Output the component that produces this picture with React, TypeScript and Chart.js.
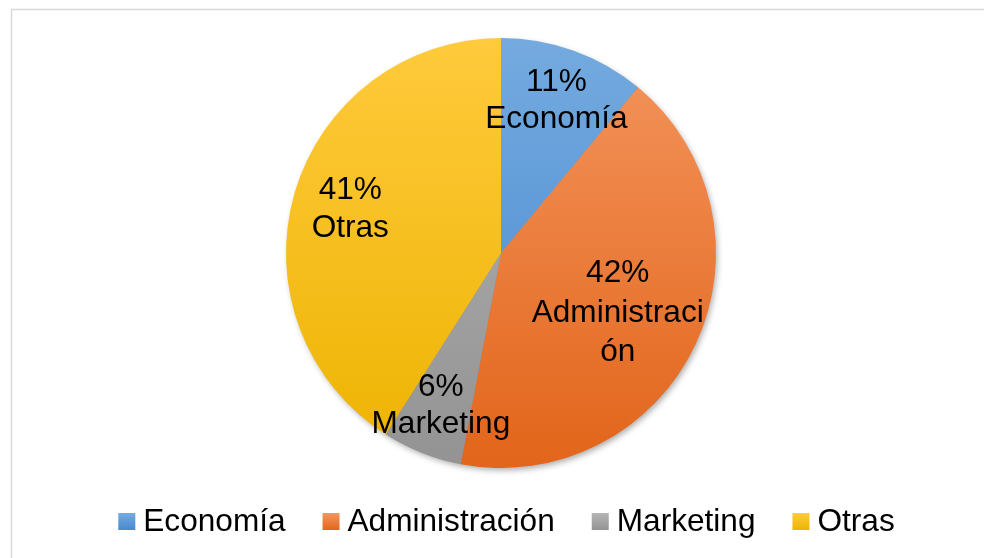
import React, { useEffect, useRef } from 'react';
import { Chart, registerables } from 'chart.js';

Chart.register(...registerables);

const categories = ['Economía', 'Administración', 'Marketing', 'Otras'];
const values = [11, 42, 6, 41];
const colorsTop = ['#74aadf', '#f4955e', '#b3b3b3', '#ffca3c'];
const colorsBottom = ['#4688cf', '#e2651a', '#939393', '#edb300'];
const labelRadius = [0.76, 0.6, 0.76, 0.73];
const labelDy = [2, 5, 1, 0];
const labelLineHeight = [37, 39.5, 37, 38];

const FONT = '31.6px "Liberation Sans", Arial, sans-serif';

function wrapText(ctx: CanvasRenderingContext2D, text: string, maxW: number): string[] {
  const lines: string[] = [];
  let cur = '';
  for (const ch of text) {
    if (ctx.measureText(cur + ch).width > maxW && cur.length) {
      lines.push(cur);
      cur = ch;
    } else cur += ch;
  }
  if (cur) lines.push(cur);
  return lines;
}

const framePlugin = {
  id: 'frame',
  beforeDraw(chart: any) {
    const ctx = chart.ctx;
    ctx.save();
    ctx.fillStyle = '#ffffff';
    ctx.fillRect(0, 0, chart.width, chart.height);
    ctx.strokeStyle = '#d9d9d9';
    ctx.lineWidth = 1.5;
    ctx.strokeRect(11.5, 9.5, chart.width + 20, chart.height + 20);
    ctx.restore();
  },
  beforeDatasetsDraw(chart: any) {
    const meta = chart.getDatasetMeta(0);
    const el = meta.data[0];
    if (!el) return;
    const { x, y, outerRadius } = el.getProps(['x', 'y', 'outerRadius'], true);
    const ctx = chart.ctx;
    ctx.save();
    ctx.shadowColor = 'rgba(0,0,0,0.35)';
    ctx.shadowBlur = 6;
    ctx.shadowOffsetX = 2;
    ctx.shadowOffsetY = 3;
    ctx.fillStyle = '#888';
    ctx.beginPath();
    ctx.arc(x, y, outerRadius - 1, 0, Math.PI * 2);
    ctx.fill();
    ctx.restore();
  },
  afterDatasetsDraw(chart: any) {
    const ctx = chart.ctx;
    const meta = chart.getDatasetMeta(0);
    const total = values.reduce((a, b) => a + b, 0);
    ctx.save();
    ctx.font = FONT;
    ctx.fillStyle = '#000000';
    ctx.textAlign = 'center';
    ctx.textBaseline = 'middle';
    meta.data.forEach((arc: any, i: number) => {
      const { x, y, startAngle, endAngle, outerRadius } = arc.getProps(
        ['x', 'y', 'startAngle', 'endAngle', 'outerRadius'],
        true
      );
      const mid = (startAngle + endAngle) / 2;
      const r = outerRadius * labelRadius[i];
      const px = x + Math.cos(mid) * r;
      const py = y + Math.sin(mid) * r + labelDy[i];
      const pct = Math.round((values[i] / total) * 100) + '%';
      const lines = [pct, ...wrapText(ctx, categories[i], 178)];
      const lh = labelLineHeight[i];
      lines.forEach((ln, j) => {
        ctx.fillText(ln, px, py + (j - (lines.length - 1) / 2) * lh);
      });
    });
    ctx.restore();
  },
  afterDraw(chart: any) {
    const ctx = chart.ctx;
    ctx.save();
    ctx.font = FONT;
    const box = 17;
    const gapText = 8;
    const gapItem = 37;
    const widths = categories.map((c) => ctx.measureText(c).width);
    const total = widths.reduce((s, w) => s + box + gapText + w, 0) + gapItem * (categories.length - 1);
    let cx = 506.5 - total / 2;
    const cy = 522;
    ctx.textBaseline = 'middle';
    ctx.textAlign = 'left';
    categories.forEach((c, i) => {
      const g = ctx.createLinearGradient(0, cy - box / 2, 0, cy + box / 2);
      g.addColorStop(0, colorsTop[i]);
      g.addColorStop(1, colorsBottom[i]);
      ctx.fillStyle = g;
      ctx.fillRect(cx, cy - box / 2 - 0.5, box, box);
      cx += box + gapText;
      ctx.fillStyle = '#000000';
      ctx.fillText(c, cx, cy);
      cx += widths[i] + gapItem;
    });
    ctx.restore();
  },
};

export default function App() {
  const ref = useRef<HTMLCanvasElement>(null);
  useEffect(() => {
    if (!ref.current) return;
    const chart = new Chart(ref.current, {
      type: 'pie',
      data: {
        labels: categories,
        datasets: [
          {
            data: values,
            borderWidth: 0,
            backgroundColor: (ctx: any) => {
              const ch = ctx.chart;
              const area = ch.chartArea;
              if (!area) return colorsTop[ctx.dataIndex];
              const g = ch.ctx.createLinearGradient(0, area.top, 0, area.bottom);
              g.addColorStop(0, colorsTop[ctx.dataIndex]);
              g.addColorStop(1, colorsBottom[ctx.dataIndex]);
              return g;
            },
          },
        ],
      },
      options: {
        responsive: false,
        animation: false,
        layout: { padding: { top: 38, bottom: 90, left: 18, right: 0 } },
        plugins: {
          legend: { display: false },
          tooltip: { enabled: false },
        },
      },
      plugins: [framePlugin],
    });
    return () => chart.destroy();
  }, []);
  return (
    <div style={{ position: 'fixed', left: 0, top: 0, width: 984, height: 558, background: '#fff' }}>
      <canvas ref={ref} width={984} height={558} style={{ display: 'block' }} />
    </div>
  );
}
